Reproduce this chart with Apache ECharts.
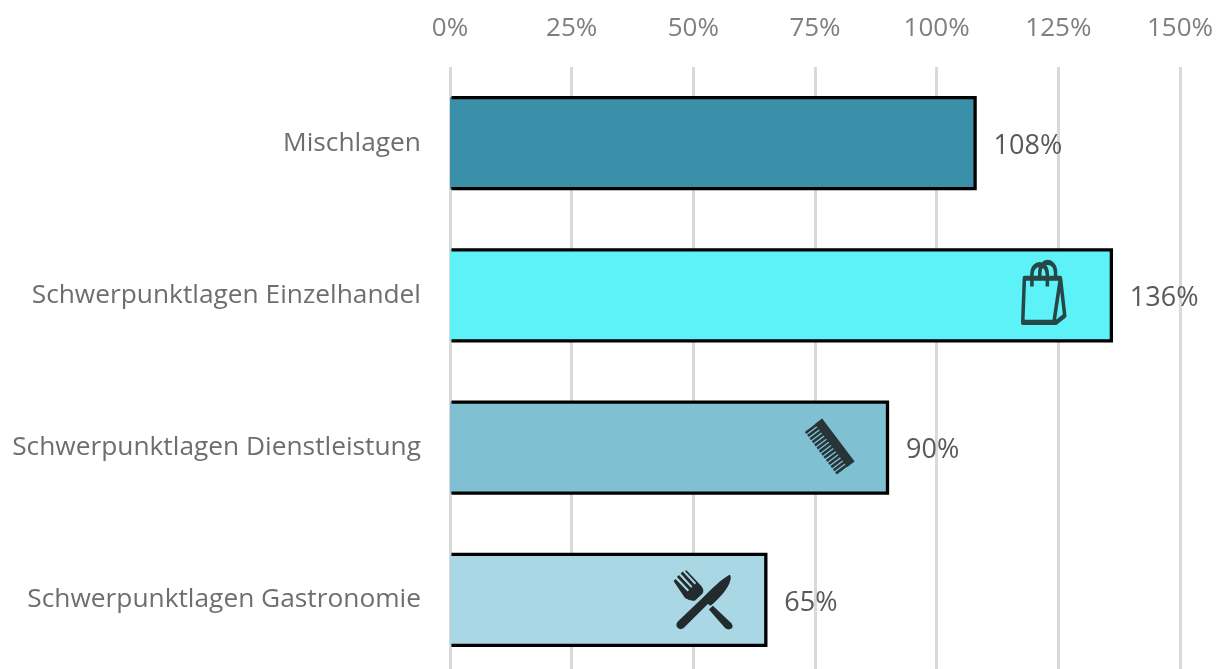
<!DOCTYPE html>
<html><head><meta charset="utf-8">
<script src="https://cdn.jsdelivr.net/npm/echarts@6/dist/echarts.min.js"></script>
<style>html,body{margin:0;padding:0;background:#fff}#c{width:1216px;height:669px}</style>
</head><body><div id="c"></div>
<script>
const categories = ['Mischlagen','Schwerpunktlagen Einzelhandel','Schwerpunktlagen Dienstleistung','Schwerpunktlagen Gastronomie'];
const shares = [108,136,90,65];
const barColors = ['#3A90A8','#5DF2F8','#7FC1D3','#A9D7E3'];
const iconPositions = [null,122,78,52];

const FONT = '"Open Sans"';
const bagPath = 'M135 112 L245 112 L258 222 L232 242 L130 242 Z M245 112 L225 242 M158 136 L158 100 C158 62 205 62 205 100 L205 136 M182 112 L182 95 C182 55 230 55 230 95 L230 112';
let combPath = 'M0 0 L100 0 L100 17 L0 17 Z';
for (let i = 0; i < 14; i++) { const x = 0.6 + i * 7.2; combPath += ` M${x} 14 L${x+4.8} 14 L${x+4.8} 41 L${x} 41 Z`; }
const cutleryPath = 'M236 72 C243 74 240 88 236 98 C225 122 203 146 180 165 L172 160 L100 232 Q88 240 80 229 Q75 218 85 210 L156 142 C185 112 210 88 236 72 Z '
 + 'M175 176 L187 165 L243 218 Q250 232 238 235 Q230 238 222 230 Z '
 + 'M70 91 L76 85 L112 122 L116 118 L80 79 L86 73 L122 111 L126 107 L91 68 L97 62 L133 101 L137 97 L103 60 L109 59 L152 105 Q164 120 155 130 L134 149 Q120 152 104 142 Z';

const iconDefs = [null,
 {symbol:'path://'+bagPath,size:[42,60],offset:[0,-3],rotate:0,style:{color:'transparent',borderColor:'#1A1A1A',borderWidth:4.2,borderJoin:'round'}},
 {symbol:'path://'+combPath,size:[54,22],offset:[0,-1],rotate:-53,style:{color:'#111'}},
 {symbol:'path://'+cutleryPath,size:[59,59],offset:[0,0],rotate:0,style:{color:'#000'}}];

const chart = echarts.init(document.getElementById('c'),null,{renderer:'canvas'});
chart.setOption({
 animation:false,
 backgroundColor:'#fff',
 grid:{left:450,top:67,width:730,height:609,containLabel:false,outerBoundsMode:'none'},
 xAxis:{type:'value',position:'top',min:0,max:150,interval:25,
  axisLine:{show:false},axisTick:{show:false},
  axisLabel:{formatter:'{value}%',color:'#7F7F7F',fontFamily:FONT,fontSize:26,margin:25},
  splitLine:{show:true,lineStyle:{color:'#D9D9D9',width:3}}},
 yAxis:{type:'category',inverse:true,data:categories,
  axisLine:{show:false},axisTick:{show:false},
  axisLabel:{color:'#6E6E6E',fontFamily:FONT,fontSize:26.3,margin:29}},
 series:[
  {type:'bar',barWidth:92,z:2,
   data:shares.map((v,i)=>({value:v,itemStyle:{color:barColors[i]}})),
   label:{show:true,position:'right',distance:18,offset:[0,3],formatter:'{c}%',color:'#595959',fontFamily:FONT,fontSize:27}},
  {type:'custom',z:3,silent:true,
   data:shares.map((v,i)=>[v,i]),
   encode:{x:0,y:1},
   renderItem:(params,api)=>{
     const i=api.value(1), end=api.coord([api.value(0),i]), start=api.coord([0,i]);
     const h=45.5, x=end[0]-0.5, y=end[1];
     return {type:'polyline',shape:{points:[[start[0]+1.5,y-h],[x,y-h],[x,y+h],[start[0]+1.5,y+h]]},
       style:{fill:null,stroke:'#000',lineWidth:3.3,lineJoin:'miter'}};
   }},
  {type:'scatter',z:5,silent:true,
   data:iconPositions.map((v,i)=>v==null?null:({value:[v,i],symbol:iconDefs[i].symbol,symbolSize:iconDefs[i].size,symbolOffset:iconDefs[i].offset,symbolRotate:iconDefs[i].rotate,itemStyle:iconDefs[i].style})).filter(Boolean)}
 ]
});
</script></body></html>
